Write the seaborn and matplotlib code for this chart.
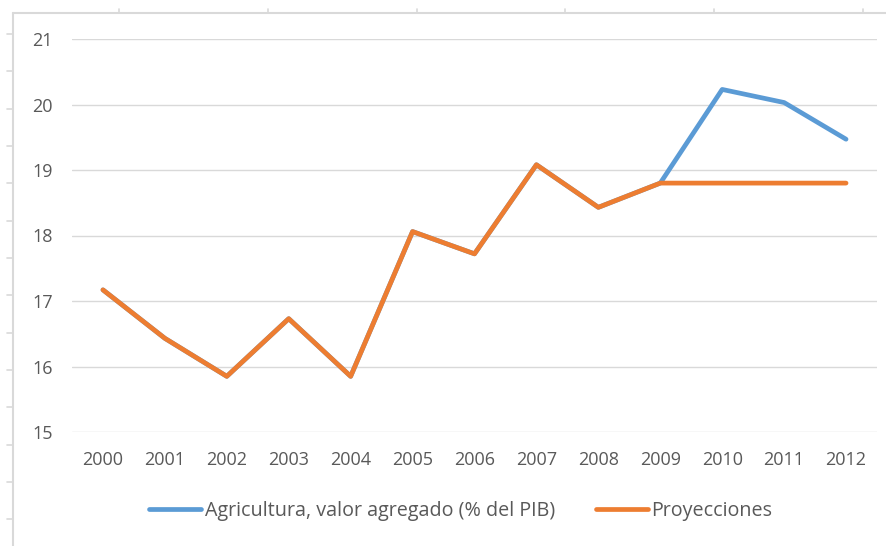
import matplotlib
matplotlib.use("Agg")
import matplotlib.pyplot as plt
from matplotlib.lines import Line2D
import numpy as np
import pandas as pd
import seaborn as sns

# Data
years = ["2000", "2001", "2002", "2003", "2004", "2005", "2006",
         "2007", "2008", "2009", "2010", "2011", "2012"]
agricultura = [17.17, 16.43, 15.85, 16.73, 15.85, 18.06, 17.72,
               19.08, 18.43, 18.80, 20.23, 20.03, 19.47]
proyecciones = [17.17, 16.43, 15.85, 16.73, 15.85, 18.06, 17.72,
                19.08, 18.43, 18.80, 18.80, 18.80, 18.80]
y_ticks = [15, 16, 17, 18, 19, 20, 21]

serie_agri = "Agricultura, valor agregado (% del PIB)"
serie_proy = "Proyecciones"

sns.set_theme(style="white")
plt.rcParams["font.family"] = ["Open Sans", "DejaVu Sans"]

W, H = 887, 546
fig = plt.figure(figsize=(W / 100, H / 100), dpi=100)

def fx(px):
    return px / W

def fy(py):
    return 1 - py / H

# Plot area
ax = fig.add_axes([fx(72), fy(432), fx(877 - 72), (432 - 39) / H])

df = pd.DataFrame({
    "pos": np.arange(len(years)),
    serie_agri: agricultura,
    serie_proy: proyecciones,
})
long = df.melt(id_vars="pos", var_name="serie", value_name="valor")

palette = {serie_agri: "#5B9BD5", serie_proy: "#ED7D31"}
lw = 3.4
sns.lineplot(data=long, x="pos", y="valor", hue="serie", palette=palette,
             hue_order=[serie_agri, serie_proy], linewidth=lw, ax=ax,
             legend=False, solid_capstyle="round", solid_joinstyle="round")

ax.set_xlim(-0.5, len(years) - 0.5)
ax.set_ylim(15, 21)
ax.set_xticks(np.arange(len(years)))
ax.set_xticklabels(years)
ax.set_yticks(y_ticks)
ax.set_xlabel("")
ax.set_ylabel("")
ax.grid(axis="y", color="#D9D9D9", linewidth=1.0)
ax.grid(axis="x", visible=False)
ax.set_axisbelow(True)
for s in ax.spines.values():
    s.set_visible(False)
ax.tick_params(axis="both", length=0, labelsize=13, colors="#595959")
ax.tick_params(axis="x", pad=14)
ax.tick_params(axis="y", pad=14)

# Legend
handles = [Line2D([0], [0], color=palette[serie_agri], lw=lw, solid_capstyle="round"),
           Line2D([0], [0], color=palette[serie_proy], lw=lw, solid_capstyle="round")]
leg = fig.legend(handles, [serie_agri, serie_proy], loc="center",
                 bbox_to_anchor=(fx(461), fy(511)), ncol=2, frameon=False,
                 fontsize=14.2, handlelength=2.6, handletextpad=0.2,
                 columnspacing=2.1, labelcolor="#595959")

# Sheet frame around the chart
frame_color = "#D9D9D9"
fig.add_artist(Line2D([fx(13), fx(W)], [fy(13), fy(13)], color=frame_color, lw=1.5))
fig.add_artist(Line2D([fx(13), fx(13)], [fy(13), fy(H)], color=frame_color, lw=1.5))
for px in [119, 268, 417, 565, 714, 863]:
    fig.add_artist(Line2D([fx(px), fx(px)], [fy(9), fy(13)], color=frame_color, lw=1.2))
for py in np.arange(34, 530, 37.33):
    fig.add_artist(Line2D([fx(7), fx(13)], [fy(py), fy(py)], color=frame_color, lw=1.2))

fig.savefig("out.png", dpi=100, facecolor="white")
